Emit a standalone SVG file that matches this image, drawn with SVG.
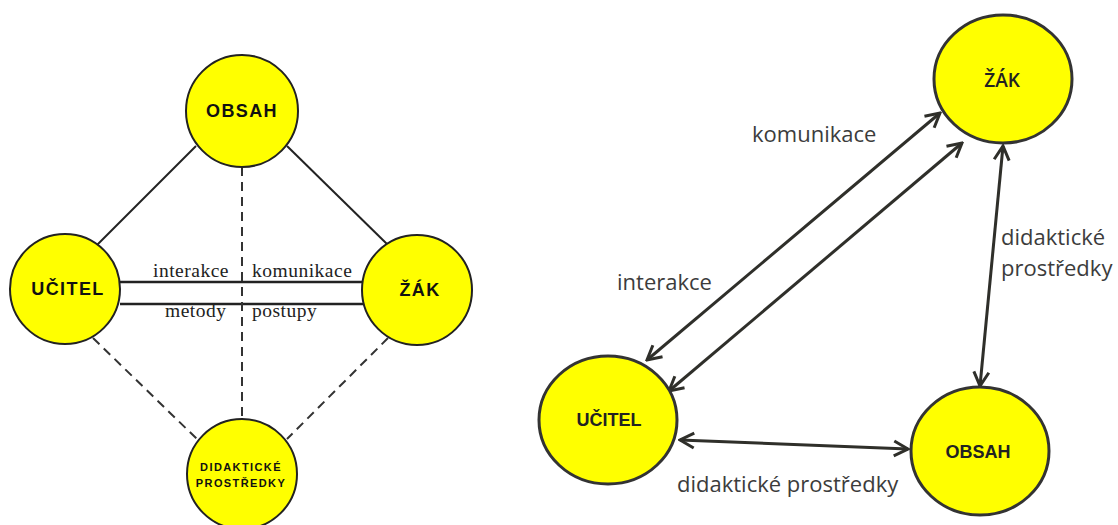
<svg xmlns="http://www.w3.org/2000/svg" width="1118" height="525" viewBox="0 0 1118 525">
<style>
.nodeL{fill:#ffff00;stroke:#222;stroke-width:2}
.nodeR{fill:#ffff00;stroke:#333;stroke-width:3}
.tL{font-family:"Liberation Sans",Arial,sans-serif;font-weight:bold;font-size:18px;letter-spacing:1.4px;fill:#111;text-anchor:middle;dominant-baseline:central}
.tS{font-family:"Liberation Sans",Arial,sans-serif;font-weight:bold;font-size:11px;letter-spacing:1.4px;fill:#111;text-anchor:middle}
.tR{font-family:"Liberation Sans",Arial,sans-serif;font-weight:bold;font-size:18px;fill:#222;text-anchor:middle;dominant-baseline:central}
.serif{font-family:"Liberation Serif","Times New Roman",serif;font-size:19.5px;letter-spacing:0.5px;fill:#222}
.lab{font-family:"Open Sans","Noto Sans",sans-serif;font-size:22px;fill:#3c3c3c}
.solid{stroke:#222;stroke-width:2;fill:none}
.dash{stroke:#333;stroke-width:2;stroke-dasharray:9 6;fill:none}
.arr{stroke:#2f2f2a;stroke-width:3;fill:none;marker-start:url(#ah);marker-end:url(#ah)}
</style>
<defs>
<marker id="ah" viewBox="-18 -10 20 20" refX="0" refY="0" markerWidth="20" markerHeight="20" markerUnits="userSpaceOnUse" orient="auto-start-reverse">
<path d="M-14,-7.5 L0,0 L-14,7.5" fill="none" stroke="#2f2f2a" stroke-width="3"/>
</marker>
</defs>
<rect width="1118" height="525" fill="#ffffff"/>
<g id="connectors">
<line class="solid" x1="97" y1="245" x2="196" y2="146"/>
<line class="solid" x1="287" y1="146" x2="388" y2="245"/>
<line class="solid" x1="120" y1="282" x2="363" y2="282" style="stroke-width:2.5"/>
<line class="solid" x1="120" y1="304" x2="363" y2="304" style="stroke-width:2.5"/>
<line class="dash" x1="242" y1="167" x2="242" y2="418"/>
<line class="dash" x1="93" y1="338" x2="198" y2="440"/>
<line class="dash" x1="388" y1="338" x2="287" y2="439"/>
<line class="arr" x1="647" y1="360" x2="940" y2="113"/>
<line class="arr" x1="669" y1="391" x2="962" y2="143"/>
<line class="arr" x1="1003" y1="146" x2="980" y2="386"/>
<line class="arr" x1="680" y1="440" x2="908" y2="449"/>
</g>
<g id="labels">
<text class="serif" x="153" y="277">interakce</text>
<text class="serif" x="252" y="277">komunikace</text>
<text class="serif" x="165" y="317">metody</text>
<text class="serif" x="252" y="317">postupy</text>
<text class="lab" x="752" y="142">komunikace</text>
<text class="lab" x="617" y="290">interakce</text>
<text class="lab" x="1001" y="245">didaktické</text>
<text class="lab" x="1001" y="276">prostředky</text>
<text class="lab" x="677" y="492">didaktické prostředky</text>
</g>
<g id="obsah-left">
<circle class="nodeL" cx="242" cy="111" r="56"/>
<text class="tL" x="242" y="111">OBSAH</text>
</g>
<g id="ucitel-left">
<circle class="nodeL" cx="65" cy="289" r="55"/>
<text class="tL" x="68" y="289">UČITEL</text>
</g>
<g id="zak-left">
<circle class="nodeL" cx="417" cy="290" r="55"/>
<text class="tL" x="420" y="290">ŽÁK</text>
</g>
<g id="prostredky-left">
<circle class="nodeL" cx="242" cy="474" r="55"/>
<text class="tS" x="241" y="471">DIDAKTICKÉ</text>
<text class="tS" x="241" y="487">PROSTŘEDKY</text>
</g>
<g id="zak-right">
<ellipse class="nodeR" cx="1003" cy="79" rx="69" ry="64"/>
<text x="1002" y="80" style="font-family:'Open Sans','Noto Sans',sans-serif;font-weight:600;font-size:19px;fill:#222;text-anchor:middle;dominant-baseline:central">ŽÁK</text>
</g>
<g id="ucitel-right">
<ellipse class="nodeR" cx="608" cy="420" rx="69" ry="64"/>
<text class="tR" x="609" y="420">UČITEL</text>
</g>
<g id="obsah-right">
<ellipse class="nodeR" cx="980" cy="451" rx="69" ry="64"/>
<text class="tR" x="978" y="452">OBSAH</text>
</g>
</svg>
